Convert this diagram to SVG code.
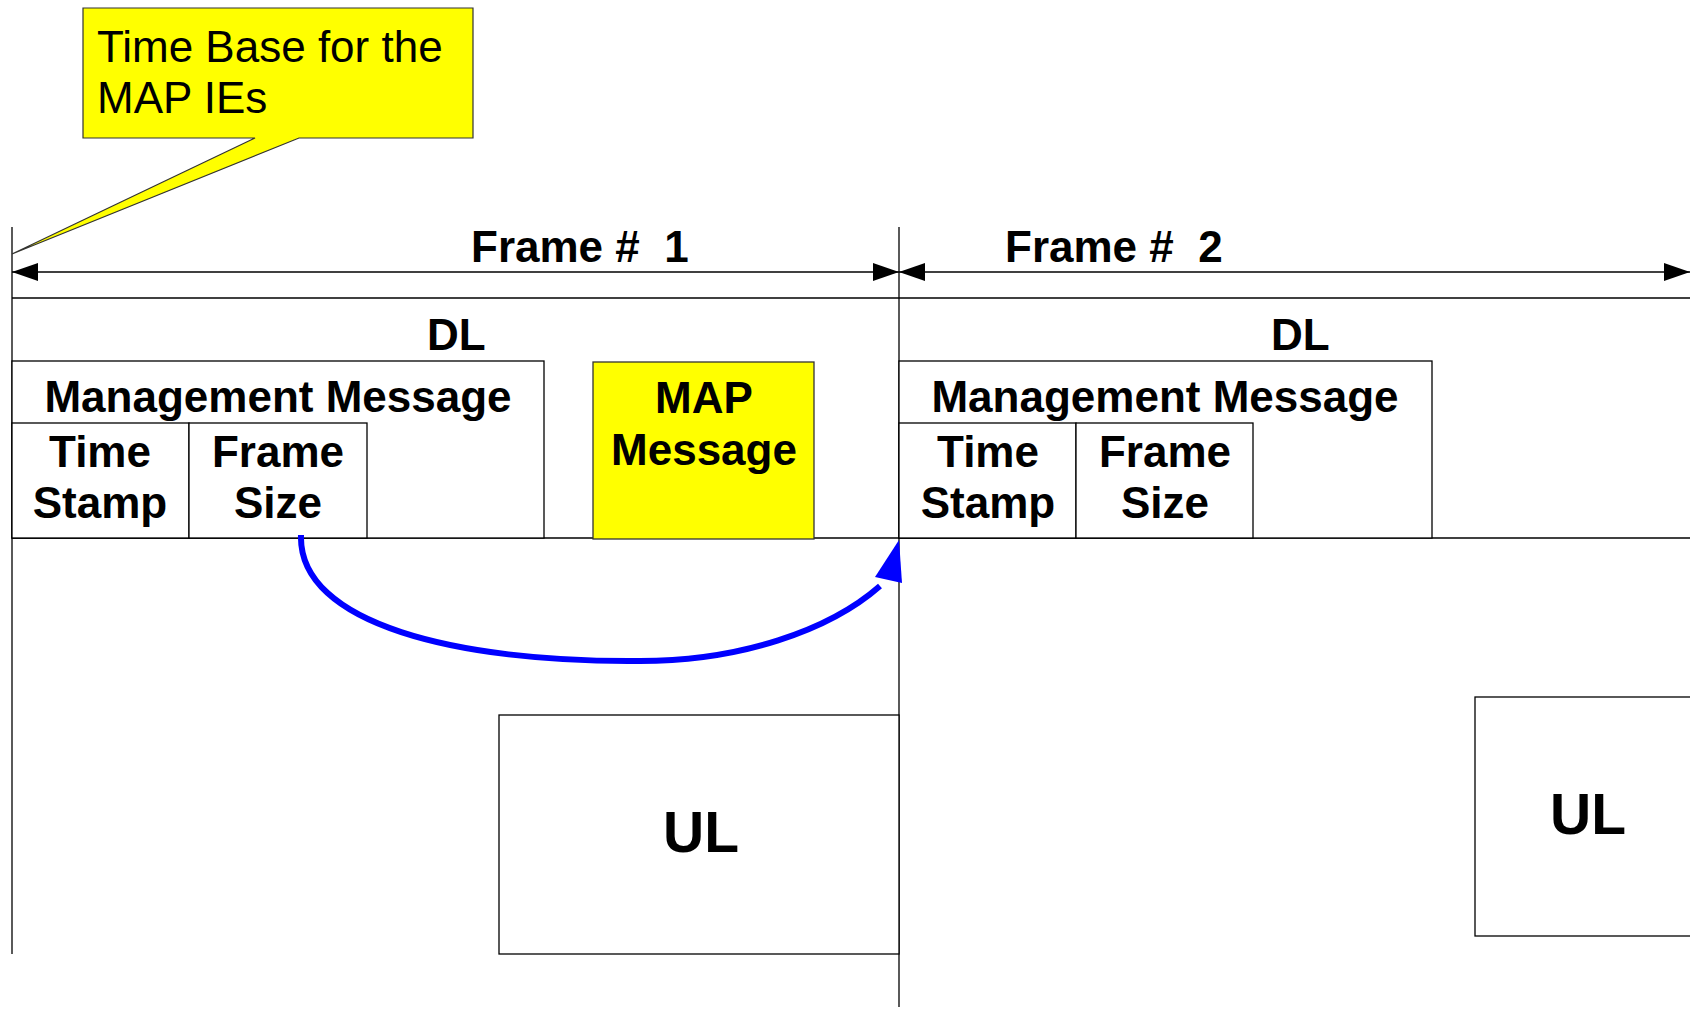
<svg xmlns="http://www.w3.org/2000/svg" width="1690" height="1021" viewBox="0 0 1690 1021">
  <defs>
    <style>
      .ln { stroke: #000; stroke-width: 1.3; fill: none; }
      .box { stroke: #000; stroke-width: 1.3; fill: #fff; }
      .lbl { font-family: "Liberation Sans", Arial, sans-serif; font-weight: bold; font-size: 44px; fill: #000; }
      .big { font-family: "Liberation Sans", Arial, sans-serif; font-weight: bold; font-size: 57px; fill: #000; }
      .note { font-family: "Liberation Sans", Arial, sans-serif; font-size: 44px; fill: #000; }
      .mid { text-anchor: middle; }
      .pre { white-space: pre; }
    </style>
    <marker id="arrowEnd" viewBox="0 0 26 18" refX="26" refY="9" markerWidth="26" markerHeight="18" markerUnits="userSpaceOnUse" orient="auto">
      <path d="M0,0 L26,9 L0,18 Z" fill="#000"/>
    </marker>
    <marker id="arrowStart" viewBox="0 0 26 18" refX="0" refY="9" markerWidth="26" markerHeight="18" markerUnits="userSpaceOnUse" orient="auto">
      <path d="M26,0 L0,9 L26,18 Z" fill="#000"/>
    </marker>
  </defs>

  <rect width="1690" height="1021" fill="#fff"/>

  <!-- frame boundaries and rulers -->
  <g id="frame-axes">
    <line class="ln" x1="12" y1="227" x2="12" y2="954"/>
    <line class="ln" x1="899" y1="227" x2="899" y2="1007"/>
    <line class="ln" x1="12" y1="298" x2="1690" y2="298"/>
    <line class="ln" x1="12" y1="538" x2="1690" y2="538"/>
    <line class="ln" x1="12" y1="272" x2="899" y2="272" marker-start="url(#arrowStart)" marker-end="url(#arrowEnd)"/>
    <line class="ln" x1="899" y1="272" x2="1690" y2="272" marker-start="url(#arrowStart)" marker-end="url(#arrowEnd)"/>
    <text class="lbl pre" x="471" y="262">Frame #  1</text>
    <text class="lbl pre" x="1005" y="262">Frame #  2</text>
  </g>

  <!-- Frame 1 -->
  <g id="dl-1">
    <text class="lbl" x="427" y="350">DL</text>
  </g>
  <g id="mgmt-1">
    <rect class="box" x="12" y="361" width="532" height="177"/>
    <text class="lbl mid" x="278" y="412">Management Message</text>
  </g>
  <g id="timestamp-1">
    <rect class="box" x="12" y="423" width="177" height="115"/>
    <text class="lbl mid" x="100" y="467">Time</text>
    <text class="lbl mid" x="100" y="518">Stamp</text>
  </g>
  <g id="framesize-1">
    <rect class="box" x="189" y="423" width="178" height="115"/>
    <text class="lbl mid" x="278" y="467">Frame</text>
    <text class="lbl mid" x="278" y="518">Size</text>
  </g>
  <g id="map-message">
    <rect x="593" y="362" width="221" height="177" fill="#ffff00" stroke="#333" stroke-width="1.3"/>
    <text class="lbl mid" x="704" y="413">MAP</text>
    <text class="lbl mid" x="704" y="465">Message</text>
  </g>
  <g id="ul-1">
    <rect class="box" x="499" y="715" width="400" height="239"/>
    <text class="big mid" x="701" y="852">UL</text>
  </g>

  <!-- Frame 2 -->
  <g id="dl-2">
    <text class="lbl" x="1271" y="350">DL</text>
  </g>
  <g id="mgmt-2">
    <rect class="box" x="899" y="361" width="533" height="177"/>
    <text class="lbl mid" x="1165" y="412">Management Message</text>
  </g>
  <g id="timestamp-2">
    <rect class="box" x="899" y="423" width="177" height="115"/>
    <text class="lbl mid" x="988" y="467">Time</text>
    <text class="lbl mid" x="988" y="518">Stamp</text>
  </g>
  <g id="framesize-2">
    <rect class="box" x="1076" y="423" width="177" height="115"/>
    <text class="lbl mid" x="1165" y="467">Frame</text>
    <text class="lbl mid" x="1165" y="518">Size</text>
  </g>
  <g id="ul-2">
    <rect class="box" x="1475" y="697" width="230" height="239"/>
    <text class="big mid" x="1588" y="834">UL</text>
  </g>

  <!-- callout -->
  <g id="time-base-note">
    <path d="M83,8 L473,8 L473,138 L299,138 L12,254 L255,138 L83,138 Z" fill="#ffff00" stroke="#333" stroke-width="1.2"/>
    <text class="note" x="97" y="62">Time Base for the</text>
    <text class="note" x="97" y="113">MAP IEs</text>
  </g>

  <!-- connectors -->
  <g id="connectors">
    <path d="M301,535 C298,625 460,662 635,661 C740,662 830,630 880,586" fill="none" stroke="#0000ff" stroke-width="6" stroke-linecap="butt"/>
    <polygon points="899,540 875,577 902,583" fill="#0000ff"/>
  </g>
</svg>
